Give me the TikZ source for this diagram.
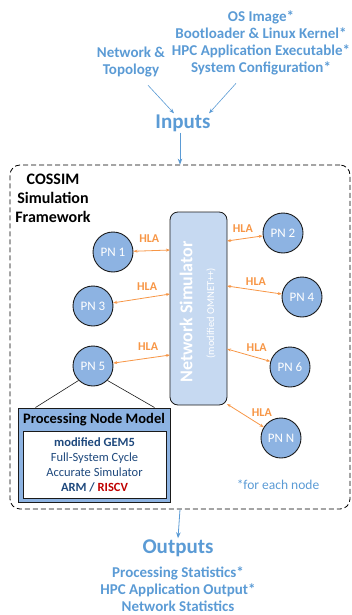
\documentclass[tikz,border=0pt]{standalone}
\usepackage{fontspec}
\setmainfont{Carlito}
\usetikzlibrary{arrows.meta,positioning}
\definecolor{CosBlue}{HTML}{5B9BD5}
\definecolor{CosNode}{HTML}{8DB3E2}
\definecolor{CosSim}{HTML}{C6D9F1}
\definecolor{CosOrange}{HTML}{F79646}
\definecolor{CosDark}{HTML}{1F497D}
\definecolor{CosRed}{HTML}{C00000}
\definecolor{CosLine}{HTML}{1A1A1A}
\tikzset{
  iotext/.style={text=CosBlue,font=\fontsize{15}{17}\selectfont\bfseries,align=center,inner sep=0pt},
  iohead/.style={text=CosBlue,font=\fontsize{21}{24}\selectfont\bfseries,inner sep=1pt},
  pnode/.style={circle,draw=CosLine,line width=0.9pt,fill=CosNode,minimum size=40pt,inner sep=0pt,text=white,font=\fontsize{13}{15}\selectfont},
  simbox/.style={rectangle,rounded corners=8pt,draw=CosLine,line width=0.8pt,fill=CosSim,minimum width=57pt,minimum height=193pt},
  frame/.style={rectangle,rounded corners=10pt,draw=black,line width=0.8pt,dash pattern=on 5pt off 3pt,minimum width=340pt,minimum height=344pt},
  modelbox/.style={rectangle,draw=CosLine,line width=1pt,fill=CosNode,minimum width=152pt,minimum height=94pt},
  gembox/.style={rectangle,draw=CosLine,line width=0.8pt,fill=white,minimum width=143pt,minimum height=67pt,align=center,text=CosDark,font=\fontsize{12.5}{15}\selectfont},
  hla/.style={{Stealth[length=4pt]}-{Stealth[length=4pt]},thick,color=CosOrange},
  hlalabel/.style={text=CosOrange,font=\fontsize{12}{14}\selectfont\bfseries,inner sep=0pt},
  flow/.style={-{Stealth[length=6pt]},thick,color=CosBlue},
  thinflow/.style={-{Stealth[length=5pt]},semithick,color=CosBlue},
}

\begin{document}
\begin{tikzpicture}[x=1pt,y=-1pt]
  \useasboundingbox (0,0) rectangle (351,615);

  % Inputs
  \node[iotext] (topo) at (131,62) {Network \&\\Topology};
  \node[iotext] (sysin) at (261,43) {OS Image*\\Bootloader \& Linux Kernel*\\HPC Application Executable*\\System Configuration*};
  \node[iohead] (inputs) at (183,123) {Inputs};

  % Simulation framework
  \node[frame] (frame) at (180,337) {};
  \node[align=center,font=\fontsize{16}{19}\selectfont\bfseries,inner sep=0pt] (cossim) at (53,198) {COSSIM\\Simulation\\Framework};

  \node[simbox] (netsim) at (198.5,308.5) {};
  \node[rotate=90,text=white,font=\fontsize{18}{20}\selectfont\bfseries,inner sep=0pt] (nsname) at (186,312) {Network Simulator};
  \node[rotate=90,text=white,font=\fontsize{10.5}{12}\selectfont,inner sep=0pt] (omnet) at (211,313) {(modified OMNET++)};

  \node[pnode] (pn1) at (113,252) {PN 1};
  \node[pnode] (pn2) at (283,233) {PN 2};
  \node[pnode] (pn3) at (93,306) {PN 3};
  \node[pnode] (pn4) at (302,297) {PN 4};
  \node[pnode] (pn5) at (93,366) {PN 5};
  \node[pnode] (pn6) at (290,367) {PN 6};
  \node[pnode] (pnn) at (281,438) {PN N};

  % HLA ports on the network simulator
  \coordinate (h1) at (170,250);
  \coordinate (h2) at (227,241);
  \coordinate (h3) at (170,294);
  \coordinate (h4) at (227,286);
  \coordinate (h5) at (170,355);
  \coordinate (h6) at (227,349);
  \coordinate (hn) at (227,404);

  % Processing node model
  \node[modelbox] (model) at (94,455) {};
  \node[font=\fontsize{14.5}{16}\selectfont\bfseries,inner sep=0pt] (modeltitle) at (94,420) {Processing Node Model};
  \node[gembox] (gem) at (94.5,464.5) {\textbf{modified GEM5}\\Full-System Cycle\\Accurate Simulator\\\textbf{ARM / \textcolor{CosRed}{RISCV}}};

  \node[text=CosBlue,font=\fontsize{13.5}{15}\selectfont,inner sep=0pt] (foreach) at (278,485) {*for each node};

  % Outputs
  \node[iohead] (outputs) at (178,548) {Outputs};
  \node[iotext] (outlist) at (178,589.5) {Processing Statistics*\\HPC Application Output*\\Network Statistics};

  % Input arrows
  \draw[thinflow] ([xshift=17pt,yshift=-8pt]topo.south) -- ([xshift=-9pt]inputs.north);
  \draw[thinflow] ([xshift=-25pt,yshift=-8pt]sysin.south) -- ([xshift=26pt]inputs.north);
  \draw[flow] ([xshift=-3pt]inputs.south) -- (frame.north);

  % HLA links
  \draw[hla] (pn1) -- (h1) node[midway,hlalabel,xshift=-2.5pt,yshift=12.5pt]{HLA};
  \draw[hla] (h2) -- (pn2) node[midway,hlalabel,xshift=-2pt,yshift=10pt]{HLA};
  \draw[hla] (pn3) -- (h3) node[midway,hlalabel,xshift=5.5pt,yshift=11.5pt]{HLA};
  \draw[hla] (h4) -- (pn4) node[midway,hlalabel,xshift=1.5pt,yshift=8pt]{HLA};
  \draw[hla] (pn5) -- (h5) node[midway,hlalabel,xshift=6.5pt,yshift=12.5pt]{HLA};
  \draw[hla] (h6) -- (pn6) node[midway,hlalabel,xshift=8pt,yshift=8pt]{HLA};
  \draw[hla] (hn) -- (pnn) node[midway,hlalabel,xshift=16.5pt,yshift=3pt]{HLA};

  % PN 5 zoom-in
  \draw[CosLine,semithick] (pn5.225) -- ([xshift=18pt]model.north west);
  \draw[CosLine,semithick] (pn5.315) -- ([xshift=-16pt]model.north east);

  % Outputs arrow
  \draw[flow] (frame.south) -- (outputs.north);

\end{tikzpicture}
\end{document}
